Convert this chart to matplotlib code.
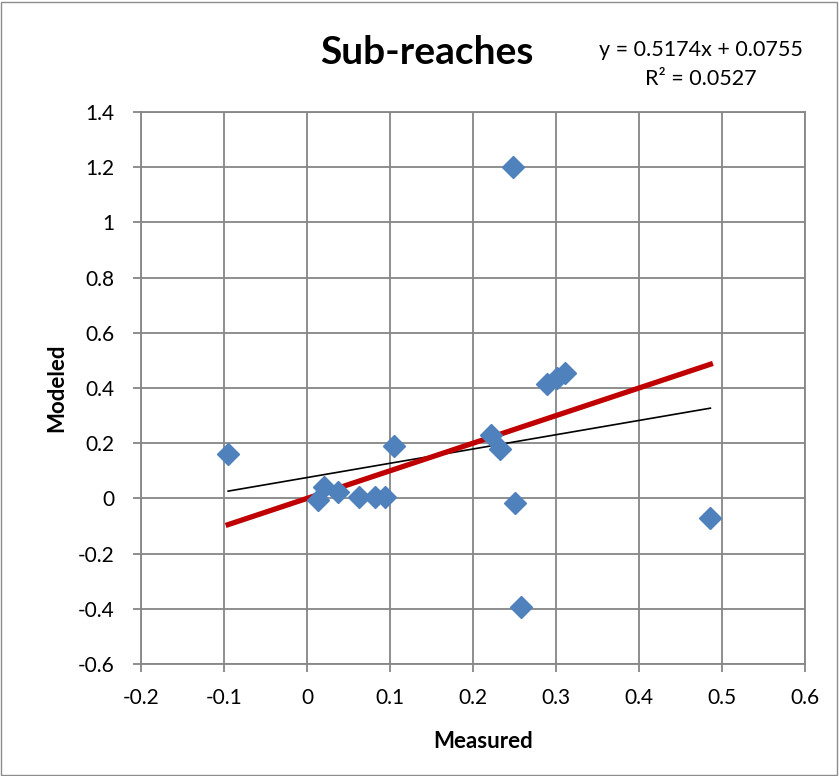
import numpy as np
import matplotlib.pyplot as plt
from matplotlib.patches import Rectangle

plt.rcParams['font.family'] = ['Lato', 'DejaVu Sans']

# measured vs modeled values
measured = [-0.095, 0.013, 0.020, 0.037, 0.063, 0.082, 0.094, 0.105,
            0.222, 0.232, 0.248, 0.251, 0.258, 0.289, 0.301, 0.311, 0.486]
modeled = [0.16, -0.005, 0.04, 0.025, 0.005, 0.004, 0.005, 0.19,
           0.23, 0.18, 1.20, -0.018, -0.395, 0.415, 0.435, 0.455, -0.072]

slope = 0.5174
intercept = 0.0755
r2 = 0.0527

xticks = [-0.2, -0.1, 0, 0.1, 0.2, 0.3, 0.4, 0.5, 0.6]
xlabels = ['-0.2', '-0.1', '0', '0.1', '0.2', '0.3', '0.4', '0.5', '0.6']
yticks = [-0.6, -0.4, -0.2, 0, 0.2, 0.4, 0.6, 0.8, 1.0, 1.2, 1.4]
ylabels = ['-0.6', '-0.4', '-0.2', '0', '0.2', '0.4', '0.6', '0.8', '1', '1.2', '1.4']

fig = plt.figure(figsize=(8.39, 7.76), dpi=100)
W, H = 839, 776
ax = fig.add_axes([141 / W, 1 - 664 / H, (805 - 141) / W, (664 - 112) / H])

# chart border
fig.patches.append(Rectangle((1 / W, 1 / H), 1 - 3 / W, 1 - 3 / H, transform=fig.transFigure,
                             fill=False, edgecolor='#8c8c8c', linewidth=1))

grid_c = '#868686'
ax.set_xlim(-0.2, 0.6)
ax.set_ylim(-0.6, 1.4)
ax.set_xticks(xticks)
ax.set_xticklabels(xlabels)
ax.set_yticks(yticks)
ax.set_yticklabels(ylabels)
ax.grid(True, color=grid_c, linewidth=1.3)
ax.set_axisbelow(True)
for s in ax.spines.values():
    s.set_color(grid_c)
    s.set_linewidth(1.3)
ax.tick_params(direction='out', length=6, width=1.3, color=grid_c, labelsize=15)
ax.tick_params(axis='x', pad=11)
ax.tick_params(axis='y', pad=13)

xs = np.array([min(measured), max(measured)])
ax.plot(xs, slope * xs + intercept, color='black', linewidth=1.2, zorder=2)
ax.plot(xs, xs, color='#c00000', linewidth=3.8, zorder=3)
ax.plot(measured, modeled, linestyle='none', marker='D', markersize=11,
        color='#4f81bd', markeredgecolor='#4f81bd', zorder=4)

# axis titles
fig.text(483 / W, 1 - 742 / H, 'Measured', fontsize=16, fontweight='bold',
         ha='center', va='center')
fig.text(57 / W, 1 - 388 / H, 'Modeled', fontsize=16, fontweight='bold',
         ha='center', va='center', rotation=90)

fig.text(427 / W, 1 - 53 / H, 'Sub-reaches', fontsize=28, fontweight='bold',
         ha='center', va='center')
fig.text(701 / W, 1 - 50 / H, 'y = %.4fx + %.4f' % (slope, intercept), fontsize=15.5,
         ha='center', va='center')
fig.text(701 / W, 1 - 79 / H, 'R² = %.4f' % r2, fontsize=15.5, ha='center', va='center')

fig.savefig('out.png', dpi=100)
